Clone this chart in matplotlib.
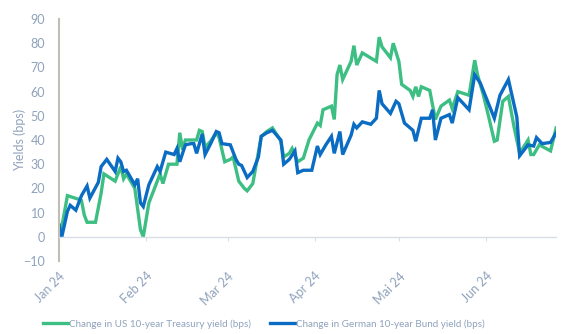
import pandas as pd
import matplotlib
matplotlib.use("Agg")
import matplotlib.pyplot as plt

plt.rcParams['font.family'] = ['Lato', 'DejaVu Sans']

# US 10y Treasury: change since start of year (bps)
us_dates = [
    "2024-01-01", "2024-01-02", "2024-01-04", "2024-01-08", "2024-01-09", "2024-01-10",
    "2024-01-11", "2024-01-14", "2024-01-16", "2024-01-17", "2024-01-21", "2024-01-23",
    "2024-01-24", "2024-01-25", "2024-01-28", "2024-01-30", "2024-01-31", "2024-02-02",
    "2024-02-04", "2024-02-06", "2024-02-07", "2024-02-09", "2024-02-12", "2024-02-13",
    "2024-02-14", "2024-02-15", "2024-02-19", "2024-02-20", "2024-02-21", "2024-02-22",
    "2024-02-24", "2024-02-26", "2024-02-27", "2024-02-29", "2024-03-02", "2024-03-03",
    "2024-03-05", "2024-03-07", "2024-03-08", "2024-03-10", "2024-03-13", "2024-03-15",
    "2024-03-17", "2024-03-20", "2024-03-21", "2024-03-23", "2024-03-24", "2024-03-26",
    "2024-03-28", "2024-03-30", "2024-04-02", "2024-04-03", "2024-04-04", "2024-04-07",
    "2024-04-08", "2024-04-09", "2024-04-10", "2024-04-11", "2024-04-14", "2024-04-15",
    "2024-04-16", "2024-04-18", "2024-04-23", "2024-04-24", "2024-04-25", "2024-04-28",
    "2024-04-29", "2024-05-01", "2024-05-02", "2024-05-05", "2024-05-06", "2024-05-07",
    "2024-05-08", "2024-05-09", "2024-05-12", "2024-05-14", "2024-05-16", "2024-05-19",
    "2024-05-20", "2024-05-22", "2024-05-26", "2024-05-28", "2024-05-29", "2024-05-31",
    "2024-06-02", "2024-06-04", "2024-06-05", "2024-06-07", "2024-06-09", "2024-06-11",
    "2024-06-13", "2024-06-16", "2024-06-17", "2024-06-18", "2024-06-20", "2024-06-24",
    "2024-06-26",
]
us_change = [
    5, 4, 17, 15.5, 15, 9,
    6, 6, 18, 26, 23, 29,
    24, 26, 20, 3, 0, 14,
    20, 26, 22, 30, 30, 43,
    36, 40, 40, 44, 43.5, 37,
    39.5, 43, 41, 31, 32, 33,
    23, 20, 19, 22, 41.5, 43.5,
    45, 39.5, 33, 34.5, 36.5, 31,
    32.5, 40, 47, 46, 52.5, 54,
    48.5, 67, 71, 65, 72.5, 79,
    71, 76, 72.5, 82.5, 78.5, 74,
    80, 72.5, 63, 60.5, 58, 62,
    58, 62, 60.5, 48.5, 54, 56.5,
    53, 60, 58.5, 73, 67, 59,
    49.5, 39.5, 40, 56, 58, 45.5,
    34.5, 40, 34, 34, 38, 35.5,
    45,
]

# German 10y Bund: change since start of year (bps)
de_dates = [
    "2024-01-01", "2024-01-02", "2024-01-04", "2024-01-05", "2024-01-07", "2024-01-09",
    "2024-01-11", "2024-01-12", "2024-01-15", "2024-01-16", "2024-01-18", "2024-01-21",
    "2024-01-22", "2024-01-23", "2024-01-24", "2024-01-25", "2024-01-28", "2024-01-29",
    "2024-01-30", "2024-01-31", "2024-02-02", "2024-02-05", "2024-02-06", "2024-02-08",
    "2024-02-11", "2024-02-12", "2024-02-13", "2024-02-15", "2024-02-17", "2024-02-18",
    "2024-02-19", "2024-02-21", "2024-02-22", "2024-02-24", "2024-02-26", "2024-02-27",
    "2024-02-28", "2024-03-02", "2024-03-04", "2024-03-05", "2024-03-06", "2024-03-08",
    "2024-03-10", "2024-03-12", "2024-03-13", "2024-03-15", "2024-03-17", "2024-03-20",
    "2024-03-21", "2024-03-23", "2024-03-25", "2024-03-26", "2024-03-28", "2024-03-31",
    "2024-04-02", "2024-04-03", "2024-04-05", "2024-04-07", "2024-04-08", "2024-04-10",
    "2024-04-11", "2024-04-14", "2024-04-15", "2024-04-16", "2024-04-18", "2024-04-21",
    "2024-04-23", "2024-04-24", "2024-04-25", "2024-04-28", "2024-04-30", "2024-05-01",
    "2024-05-03", "2024-05-06", "2024-05-07", "2024-05-09", "2024-05-12", "2024-05-13",
    "2024-05-14", "2024-05-16", "2024-05-19", "2024-05-20", "2024-05-22", "2024-05-26",
    "2024-05-28", "2024-05-30", "2024-06-04", "2024-06-06", "2024-06-09", "2024-06-12",
    "2024-06-13", "2024-06-16", "2024-06-18", "2024-06-19", "2024-06-21", "2024-06-24",
    "2024-06-26",
]
de_change = [
    5, 0, 10.5, 13, 11, 17,
    21, 16, 22.5, 29, 32, 27,
    32.5, 31, 27, 27.5, 21.5, 24,
    14, 12.5, 21.5, 29, 27, 35,
    34, 36.5, 31, 38, 38.5, 38.5,
    34.5, 42.5, 34, 38.5, 43.5, 43,
    38.5, 38, 32, 30, 29.5, 24.5,
    27, 33, 41.5, 43, 44, 40,
    30, 32, 35.5, 26.5, 27.5, 27.5,
    37.5, 34, 38, 41.5, 34.5, 43.5,
    34, 42, 46.5, 45, 47.5, 46.5,
    49, 60.5, 55, 51, 56, 55,
    47, 44, 39.5, 49, 49, 52.5,
    40, 49, 50.5, 47, 57.5, 52.5,
    67, 63.5, 49, 58.5, 65, 49.5,
    33.5, 38, 37.5, 41, 38.5, 39,
    43,
]

month_ticks = ["2024-01-01", "2024-02-01", "2024-03-01", "2024-04-01", "2024-05-01", "2024-06-01"]
month_labels = ["Jan 24", "Feb 24", "Mar 24", "Apr 24", "Mai 24", "Jun 24"]

us_color = "#3DBE83"
de_color = "#0A6CC2"
text_color = "#8FA2BC"

fig = plt.figure(figsize=(5.71, 3.34), dpi=100)
ax = fig.add_axes([0.1033, 0.2186, 0.8707, 0.7244])

ax.plot(pd.to_datetime(us_dates), us_change, color=us_color, lw=2.4,
        solid_joinstyle="miter", label="Change in US 10-year Treasury yield (bps)")
ax.plot(pd.to_datetime(de_dates), de_change, color=de_color, lw=2.4,
        solid_joinstyle="miter", label="Change in German 10-year Bund yield (bps)")

ax.set_xlim(pd.Timestamp("2024-01-01"), pd.Timestamp("2024-06-26"))
ax.set_ylim(-10, 90)
ax.set_yticks(range(-10, 91, 10))

# x axis sits on zero, labels pushed below the plot area
ax.spines["bottom"].set_position(("data", 0))
ax.spines["bottom"].set_color("#D9DEE6")
ax.spines["bottom"].set_linewidth(1.0)
ax.spines["left"].set_color("#BFBDB6")
ax.spines["left"].set_linewidth(1.5)
ax.spines["top"].set_visible(False)
ax.spines["right"].set_visible(False)

ax.set_xticks(pd.to_datetime(month_ticks))
ax.set_xticklabels(month_labels, rotation=45, ha="right", rotation_mode="anchor")
ax.tick_params(axis="x", length=3, color="#D9DEE6", pad=21, labelsize=9, labelcolor=text_color)
ax.tick_params(axis="y", length=0, pad=10, labelsize=9, labelcolor=text_color)

fig.text(0.035, 0.581, "Yields (bps)", rotation=90, ha="center", va="center",
         color=text_color, fontsize=9)

fig.legend(loc="center", bbox_to_anchor=(0.4623, 0.03), ncol=2, frameon=False,
           fontsize=7.1, labelcolor=text_color, handlelength=2.5, handletextpad=0.15,
           columnspacing=1.9)

fig.savefig("out.png", dpi=100)
